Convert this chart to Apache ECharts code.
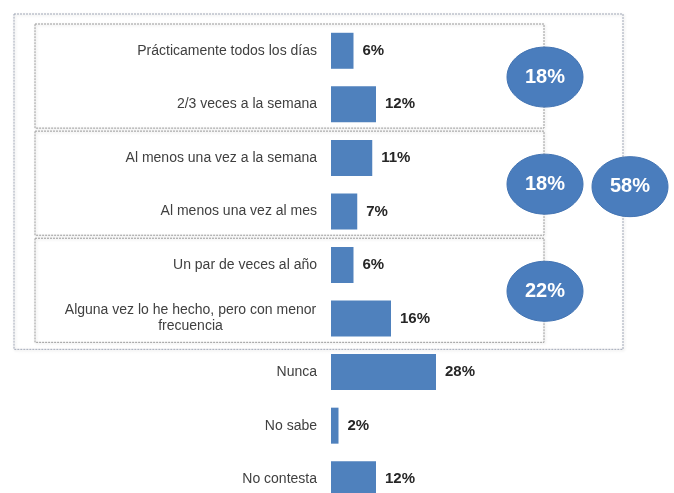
<!DOCTYPE html>
<html>
<head>
<meta charset="utf-8">
<style>
  html, body { margin: 0; padding: 0; background: #ffffff; }
  #chart { width: 674px; height: 493px; }
</style>
<script src="https://cdn.jsdelivr.net/npm/echarts@6/dist/echarts.min.js"></script>
</head>
<body>
<div id="chart"></div>
<script>
// Frequency categories (top to bottom) and their shares in percent
const categories = [
  'Prácticamente todos los días',
  '2/3 veces a la semana',
  'Al menos una vez a la semana',
  'Al menos una vez al mes',
  'Un par de veces al año',
  'Alguna vez lo he hecho, pero con menor\nfrecuencia',
  'Nunca',
  'No sabe',
  'No contesta'
];
const values = [6, 12, 11, 7, 6, 16, 28, 2, 12];

// Grouped frequency bands (first and last category index) with their totals
const groupRanges = [[0, 1], [2, 3], [4, 5]];
const groupTotals = [18, 18, 22];
// Everyone who has done it at least once (categories 0..5)
const overallRange = [0, 5];
const overallTotal = 58;

const FONT = "'Liberation Sans', Arial, sans-serif";
const LABEL_SIZE = 14;
const BLUE = '#4f81bd';
const BUBBLE = '#4a7dbd';

// Widest line of the wrapped labels, so the lines can be centred on each other
const measureCtx = document.createElement('canvas').getContext('2d');
measureCtx.font = LABEL_SIZE + 'px ' + FONT;
let wrapWidth = 0;
categories.forEach(function (c) {
  if (c.indexOf('\n') >= 0) {
    c.split('\n').forEach(function (s) {
      wrapWidth = Math.max(wrapWidth, Math.ceil(measureCtx.measureText(s).width) + 1);
    });
  }
});

const chart = echarts.init(document.getElementById('chart'), null, { renderer: 'canvas' });

chart.setOption({
  animation: false,
  backgroundColor: '#ffffff',
  grid: { left: 331, top: 24, width: 300, height: 482, containLabel: false, outerBoundsMode: 'none' },
  xAxis: {
    type: 'value', min: 0, max: 80,
    show: false
  },
  yAxis: {
    type: 'category',
    inverse: true,
    data: categories,
    axisLine: { show: false },
    axisTick: { show: false },
    splitLine: { show: false },
    axisLabel: {
      margin: 14,
      color: '#404040',
      fontFamily: FONT,
      fontSize: LABEL_SIZE,
      lineHeight: 16,
      formatter: function (v) {
        if (v.indexOf('\n') < 0) return v;
        return v.split('\n').map(function (s) { return '{c|' + s + '}'; }).join('\n');
      },
      rich: {
        c: { width: wrapWidth, align: 'center', color: '#404040', fontFamily: FONT, fontSize: LABEL_SIZE, lineHeight: 16 }
      }
    }
  },
  series: [{
    type: 'bar',
    data: values,
    barWidth: 36,
    itemStyle: { color: BLUE },
    label: {
      show: true,
      position: 'right',
      distance: 9,
      formatter: '{c}%',
      color: '#262626',
      fontFamily: FONT,
      fontWeight: 'bold',
      fontSize: 15
    }
  }]
});

// Group frames and total bubbles, placed on the category bands
function yCenter(i) { return chart.convertToPixel({ yAxisIndex: 0 }, i); }
const band = yCenter(1) - yCenter(0);
function bandTop(i) { return yCenter(i) - band / 2; }
function bandBottom(i) { return yCenter(i) + band / 2; }

const innerLeft = 35, innerRight = 544;
const outerLeft = 14, outerRight = 623;

const frameStyle = {
  fill: 'none',
  stroke: '#9a9a9a',
  lineWidth: 1,
  lineDash: [2, 1],
  shadowBlur: 3,
  shadowColor: 'rgba(0,0,0,0.18)',
  shadowOffsetX: 1,
  shadowOffsetY: 1
};

const graphics = [];

// Outer frame
const oTop = bandTop(overallRange[0]) - 10;
const oBottom = bandBottom(overallRange[1]) + 4;
graphics.push({
  type: 'rect', z: 1,
  shape: { x: outerLeft, y: oTop, width: outerRight - outerLeft, height: oBottom - oTop },
  style: Object.assign({}, frameStyle, { stroke: '#a0a7b6' })
});

function bubble(cx, cy, total) {
  graphics.push({
    type: 'ellipse', z: 10,
    shape: { cx: cx, cy: cy, rx: 38, ry: 30 },
    style: { fill: BUBBLE, stroke: '#4374b3', lineWidth: 1 }
  });
  graphics.push({
    type: 'text', z: 11,
    x: cx, y: cy,
    style: {
      text: total + '%',
      fill: '#ffffff',
      font: 'bold 20px ' + FONT,
      textAlign: 'center',
      textVerticalAlign: 'middle'
    }
  });
}

groupRanges.forEach(function (r, k) {
  const top = bandTop(r[0]);
  const bottom = bandBottom(r[1]) - 3;
  graphics.push({
    type: 'rect', z: 2,
    shape: { x: innerLeft, y: top, width: innerRight - innerLeft, height: bottom - top },
    style: frameStyle
  });
  bubble(innerRight + 1, (top + bottom) / 2 + 1, groupTotals[k]);
});

bubble(outerRight + 7, (oTop + oBottom) / 2 + 5, overallTotal);

chart.setOption({ graphic: graphics });
</script>
</body>
</html>
